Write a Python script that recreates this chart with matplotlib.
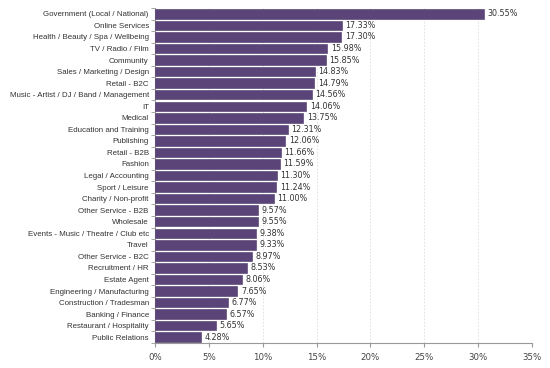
import numpy as np
import matplotlib
matplotlib.use("Agg")
import matplotlib.pyplot as plt
from matplotlib.ticker import FuncFormatter

categories = [
    "Government (Local / National)", "Online Services",
    "Health / Beauty / Spa / Wellbeing", "TV / Radio / Film", "Community",
    "Sales / Marketing / Design", "Retail - B2C",
    "Music - Artist / DJ / Band / Management", "IT", "Medical",
    "Education and Training", "Publishing", "Retail - B2B", "Fashion",
    "Legal / Accounting", "Sport / Leisure", "Charity / Non-profit",
    "Other Service - B2B", "Wholesale", "Events - Music / Theatre / Club etc",
    "Travel", "Other Service - B2C", "Recruitment / HR", "Estate Agent",
    "Engineering / Manufacturing", "Construction / Tradesman",
    "Banking / Finance", "Restaurant / Hospitality", "Public Relations",
]
values = [30.55, 17.33, 17.30, 15.98, 15.85, 14.83, 14.79, 14.56, 14.06,
          13.75, 12.31, 12.06, 11.66, 11.59, 11.30, 11.24, 11.00, 9.57,
          9.55, 9.38, 9.33, 8.97, 8.53, 8.06, 7.65, 6.77, 6.57, 5.65, 4.28]
xticks = [0, 5, 10, 15, 20, 25, 30, 35]

fig = plt.figure(figsize=(5.5, 3.68), dpi=100)
ax = fig.add_axes([0.282, 0.068, 0.685, 0.91])

y = np.arange(len(categories))
ax.barh(y, values, height=0.82, color="#5b4478", edgecolor="#4a3566",
        linewidth=0.4, zorder=3)

for yi, v in zip(y, values):
    ax.text(v + 0.35, yi, "%.2f%%" % v, va="center", ha="left",
            fontsize=5.8, color="#333333", family="DejaVu Sans")

ax.set_ylim(len(categories) - 0.5, -0.5)
ax.set_xlim(0, 35)
ax.set_xticks(xticks)
ax.xaxis.set_major_formatter(FuncFormatter(lambda v, p: "%d%%" % v))
ax.set_yticks(y)
ax.set_yticklabels(categories, fontsize=5.7, family="Liberation Sans",
                   color="#333333")
for lab in ax.get_xticklabels():
    lab.set_fontsize(6.2)
    lab.set_color("#444444")

ax.grid(axis="x", color="#dddddd", linestyle=(0, (2, 2)), linewidth=0.6,
        zorder=0)
for s in ["top", "right"]:
    ax.spines[s].set_visible(False)
ax.spines["left"].set_color("#999999")
ax.spines["bottom"].set_color("#999999")
ax.tick_params(axis="x", length=3, color="#999999", pad=4)
# minor ticks between bars on y axis
ax.set_yticks(np.arange(len(categories) + 1) - 0.5, minor=True)
ax.tick_params(axis="y", which="major", length=0, pad=4.5)
ax.tick_params(axis="y", which="minor", length=3, color="#999999")

fig.savefig("out.png", dpi=100)
